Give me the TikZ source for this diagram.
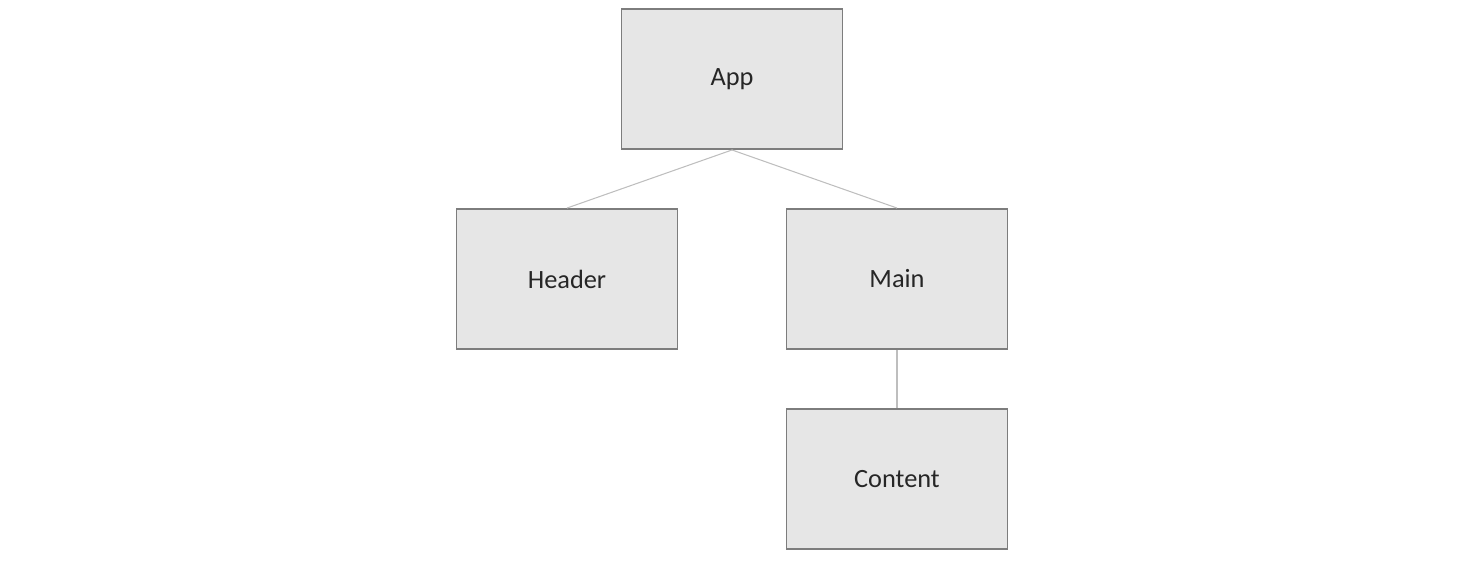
\documentclass[tikz,border=0pt]{standalone}
\usepackage{fontspec}
\setmainfont{Carlito}
\usetikzlibrary{trees}
\definecolor{boxfill}{RGB}{230,230,230}
\definecolor{boxline}{RGB}{125,125,125}
\definecolor{linkline}{RGB}{190,190,190}
\tikzstyle{every node}=[font=\fontsize{15}{18}\selectfont]

\begin{document}
\begin{tikzpicture}[
    comp/.style={
        draw=boxline,
        line width=1.1pt,
        fill=boxfill,
        text=black!85,
        minimum width=4.42cm,
        minimum height=2.8cm,
        inner sep=0pt},
    link/.style={
        draw=linkline,
        line width=0.6pt},
    level 1/.style={sibling distance=6.6cm},
    level distance=4cm,
    edge from parent/.style={link},
    edge from parent path={(\tikzparentnode.south) -- (\tikzchildnode.north)},
  ]
  \useasboundingbox (0,0) rectangle (29.3,-11.22);
  % Components
  \node[comp] (app) at (14.64,-1.58) {App}
  child{ node[comp] (header) {Header}}
  child{ node[comp] (main) {Main}
      child{ node[comp] (content) {Content}}
    };
\end{tikzpicture}
\end{document}
